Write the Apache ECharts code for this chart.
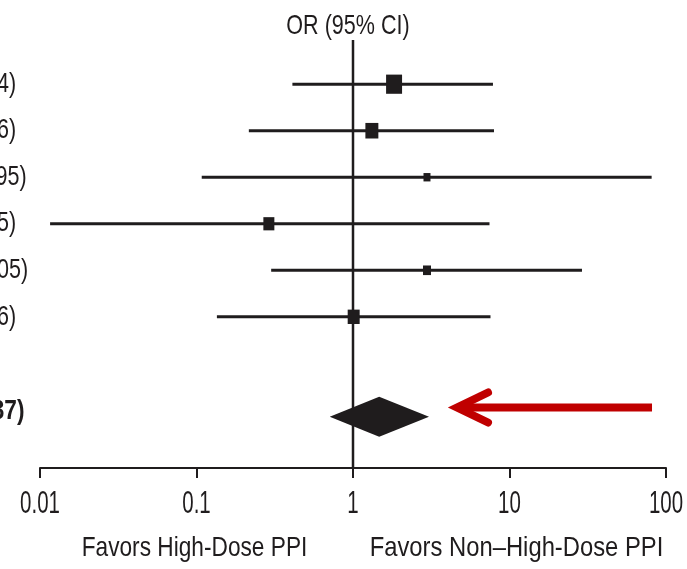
<!DOCTYPE html>
<html>
<head>
<meta charset="utf-8">
<script src="https://cdn.jsdelivr.net/npm/echarts@6/dist/echarts.min.js"></script>
<style>
  html, body { margin: 0; padding: 0; background: #fff; }
  #chart { width: 687px; height: 569px; }
</style>
</head>
<body>
<div id="chart"></div>
<script>
// study rows (top to bottom)
const rowPos = [0, 1, 2, 3, 4, 5];
const studyOR = [1.83, 1.32, 2.97, 0.29, 2.97, 1.01];
const studyLo = [0.41, 0.216, 0.108, 0.0116, 0.30, 0.135];
const studyHi = [7.84, 7.96, 80.95, 7.45, 29.05, 7.56];
const studyWeight = [31.9, 21.0, 6.1, 15.1, 8.0, 17.9];
const studyText = [
  '1.83 (0.41–7.84)',
  '1.32 (0.22–7.96)',
  '2.97 (0.11–80.95)',
  '0.29 (0.01–7.45)',
  '2.97 (0.30–29.05)',
  '1.01 (0.14–7.56)'
];

// pooled estimate
const overallRow = 7.15;
const overallOR = 1.47;
const overallLo = 0.71;
const overallHi = 3.06;
const overallText = '1.47 (0.71–3.37)';

// red arrow annotation
const arrowFrom = 81.4;
const arrowTo = 4.62;
const arrowRow = 6.95;

const xTickValues = [0.01, 0.1, 1, 10, 100];
const xTickLabels = ['0.01', '0.1', '1', '10', '100'];
const bottomLabelX = [0.1, 10];
const bottomLabels = ['Favors High-Dose PPI', 'Favors Non–High-Dose PPI'];

// condensed look: Liberation Sans squeezed horizontally
const FONT = "'Liberation Sans', Arial, sans-serif";
const INK = '#1f1c1d';
const Y_MIN = -0.95, Y_MAX = 8.25;

const chart = echarts.init(document.getElementById('chart'));

function textEl(x, y, text, size, sx, opts) {
  opts = opts || {};
  return {
    type: 'text',
    x: x,
    y: y,
    scaleX: sx,
    style: {
      text: text,
      font: (opts.bold ? 'bold ' : '') + size + 'px ' + FONT,
      fill: INK,
      textAlign: opts.align || 'center',
      textVerticalAlign: 'middle'
    }
  };
}

const option = {
  animation: false,
  backgroundColor: '#fff',
  graphic: [
    Object.assign(textEl(348, 26, 'OR (95% CI)', 28, 0.77), { silent: true })
  ],
  grid: { left: 40, right: 21, top: 40, bottom: 101, outerBoundsMode: 'none' },
  xAxis: {
    type: 'log',
    logBase: 10,
    min: 0.01,
    max: 100,
    splitLine: { show: false },
    minorTick: { show: false },
    axisLine: { onZero: false, lineStyle: { color: INK, width: 2 } },
    axisTick: { length: 10, lineStyle: { color: INK, width: 2 } },
    axisLabel: { show: false }
  },
  yAxis: {
    type: 'value',
    inverse: true,
    min: Y_MIN,
    max: Y_MAX,
    show: false
  },
  series: [
    {
      // line of no effect
      type: 'line',
      data: [[1, Y_MIN], [1, Y_MAX]],
      symbol: 'none',
      lineStyle: { color: INK, width: 2.5 },
      z: 1
    },
    {
      // study CIs + weighted squares
      type: 'custom',
      data: rowPos.map((r, i) => [studyLo[i], studyHi[i], studyOR[i], r, studyWeight[i]]),
      encode: { x: [0, 1, 2], y: 3 },
      renderItem: (params, api) => {
        const y = api.value(3);
        const lo = api.coord([api.value(0), y]);
        const hi = api.coord([api.value(1), y]);
        const pt = api.coord([api.value(2), y]);
        const s = 2.83 * Math.sqrt(api.value(4));
        return {
          type: 'group',
          children: [
            { type: 'line', shape: { x1: lo[0], y1: lo[1], x2: hi[0], y2: hi[1] },
              style: { stroke: INK, lineWidth: 3 } },
            { type: 'rect', shape: { x: pt[0] - s / 2, y: pt[1] - s * 0.6, width: s, height: s * 1.2 },
              style: { fill: INK } }
          ]
        };
      },
      z: 3
    },
    {
      // pooled diamond
      type: 'custom',
      data: [[overallLo, overallHi, overallOR, overallRow]],
      encode: { x: [0, 1, 2], y: 3 },
      renderItem: (params, api) => {
        const y = api.value(3);
        const lo = api.coord([api.value(0), y]);
        const hi = api.coord([api.value(1), y]);
        const pt = api.coord([api.value(2), y]);
        const h = 20;
        return {
          type: 'polygon',
          shape: { points: [[lo[0], lo[1]], [pt[0], pt[1] - h], [hi[0], hi[1]], [pt[0], pt[1] + h]] },
          style: { fill: INK }
        };
      },
      z: 3
    },
    {
      // red arrow
      type: 'custom',
      data: [[arrowFrom, arrowTo, arrowRow]],
      encode: { x: [0, 1], y: 2 },
      renderItem: (params, api) => {
        const y = api.value(2);
        const a = api.coord([api.value(0), y]);
        const b = api.coord([api.value(1), y]);
        return {
          type: 'group',
          children: [
            { type: 'line', shape: { x1: a[0], y1: a[1], x2: b[0] + 4, y2: b[1] },
              style: { stroke: '#c00000', lineWidth: 8 } },
            { type: 'polyline', shape: { points: [[b[0] + 31, b[1] - 15], [b[0], b[1]], [b[0] + 31, b[1] + 15]] },
              style: { stroke: '#c00000', fill: null, lineWidth: 8, lineCap: 'round', lineJoin: 'miter' } }
          ]
        };
      },
      z: 4
    },
    {
      // left-hand OR (95% CI) text column (mostly off the left edge)
      type: 'custom',
      data: rowPos.map((r, i) => [0.01, r, i]).concat([[0.01, overallRow - 0.12, -1]]),
      encode: { x: 0, y: 1 },
      renderItem: (params, api) => {
        const idx = api.value(2);
        const p = api.coord([api.value(0), api.value(1)]);
        const bold = idx < 0;
        const txt = bold ? overallText : studyText[idx];
        return textEl(p[0] - 182, p[1], txt, 28, bold ? 0.81 : 0.77, { align: 'left', bold: bold });
      },
      z: 2
    },
    {
      // tick labels
      type: 'custom',
      data: xTickValues.map((v, i) => [v, Y_MAX, i]),
      encode: { x: 0, y: 1 },
      renderItem: (params, api) => {
        const p = api.coord([api.value(0), api.value(1)]);
        return textEl(p[0], p[1] + 36, xTickLabels[api.value(2)], 31, 0.66);
      },
      z: 2
    },
    {
      // direction labels under axis
      type: 'custom',
      data: bottomLabelX.map((x, i) => [x, Y_MAX, i]),
      encode: { x: 0, y: 1 },
      renderItem: (params, api) => {
        const p = api.coord([api.value(0), api.value(1)]);
        const i = api.value(2);
        return textEl(p[0] + (i ? 7 : -2), p[1] + 80, bottomLabels[i], 28, i ? 0.85 : 0.81);
      },
      z: 2
    }
  ]
};

chart.setOption(option);
</script>
</body>
</html>
